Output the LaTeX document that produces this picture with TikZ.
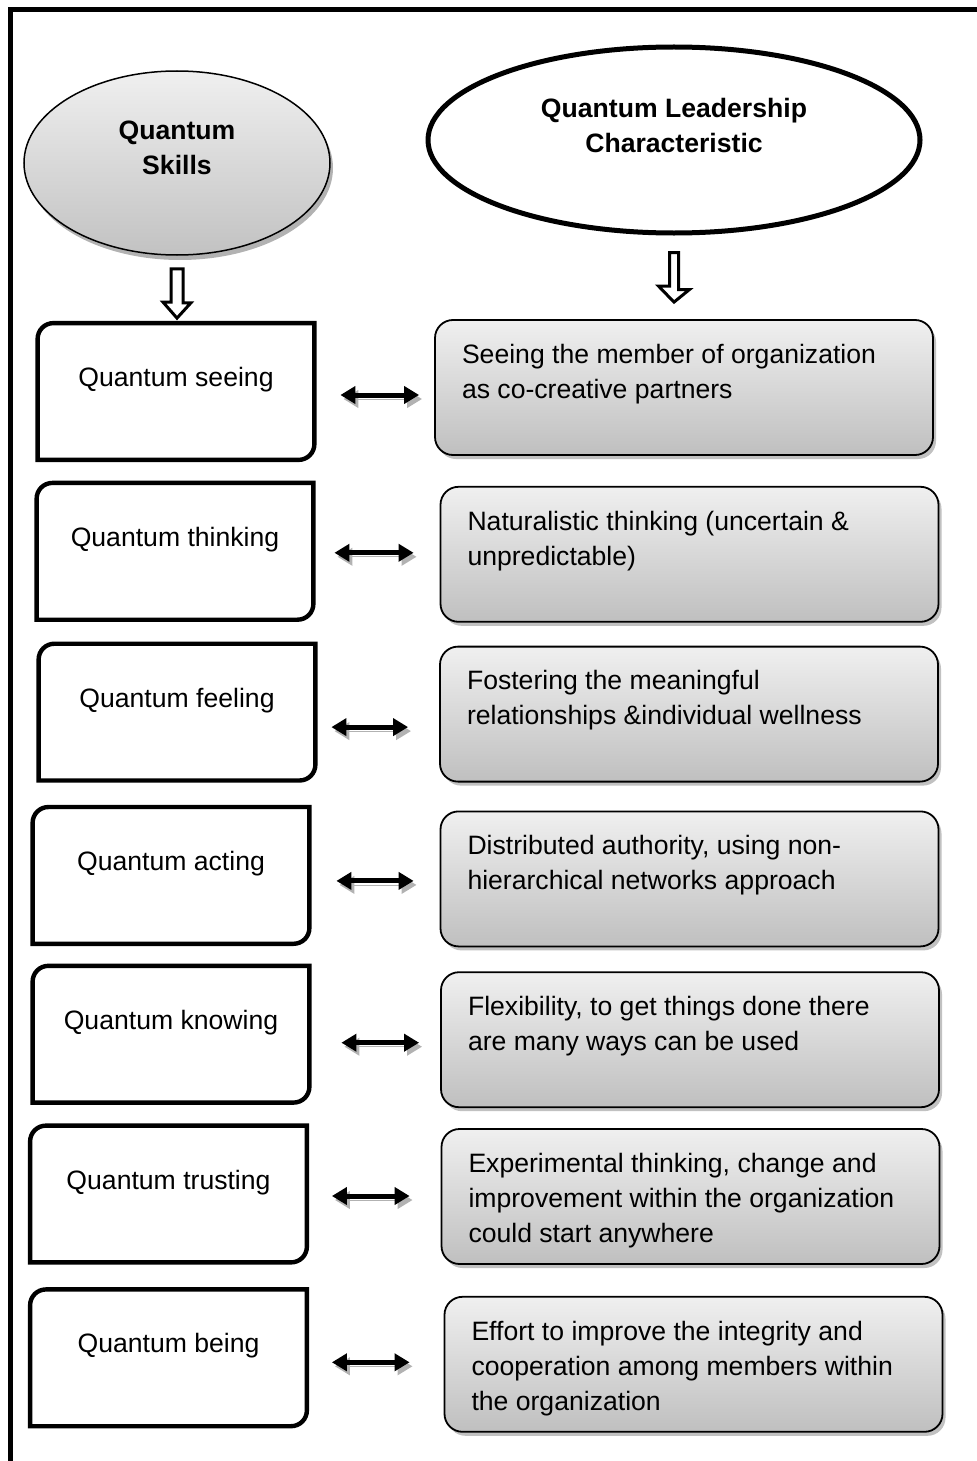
\documentclass[tikz,border=0pt]{standalone}
\usepackage{fontspec}
\setmainfont{Liberation Sans}
\usetikzlibrary{positioning,arrows.meta,calc,shapes.geometric,shadows}
\newcommand{\chartext}[1]{\parbox[c][43.5pt][t]{222pt}{#1}}

\begin{document}
\begin{tikzpicture}[x=0.5pt,y=-0.5pt,
  head/.style={ellipse,inner sep=0pt,text depth=15pt,align=center,font=\fontsize{13.3pt}{17.5pt}\selectfont\bfseries},
  skill/.style={rectangle,inner sep=0pt,minimum width=138pt,minimum height=68pt,text depth=14.5pt,font=\fontsize{13.3pt}{17.5pt}\selectfont},
  skillframe/.style={line width=2.2pt,line join=miter},
  char/.style={draw,line width=0.9pt,rounded corners=9pt,top color=gray!12,bottom color=gray!50,drop shadow={shadow xshift=1.5pt,shadow yshift=-2pt,fill=gray!70,opacity=0.7},minimum width=249pt,minimum height=67.5pt,inner xsep=13.5pt,inner ysep=0pt,font=\fontsize{13.3pt}{17.5pt}\selectfont},
  link/.style={{Triangle[length=7.5pt,width=8.5pt]}-{Triangle[length=7.5pt,width=8.5pt]},line width=2.5pt,preaction={draw=gray!60,transform canvas={shift={(1.5pt,-2pt)}}}},
  hollow/.style={draw,line width=1.5pt,fill=white,line join=miter}]
\useasboundingbox (0,0) rectangle (976,1461);
\draw[line width=2.5pt] (10.5,1470) -- (10.5,10) -- (990,10);
% heads
\node[head,draw,line width=0.75pt,top color=gray!12,bottom color=gray!48,drop shadow={shadow xshift=1.5pt,shadow yshift=-2.5pt,fill=gray!75,opacity=0.8},minimum width=153pt,minimum height=92pt] (qs) at (177,163) {Quantum\\Skills};
\node[head,draw,line width=2.5pt,fill=white,minimum width=246pt,minimum height=93pt] (qc) at (674,140) {Quantum Leadership\\Characteristic};
% skill column
\node[skill] (s1) at (176,391.5) {Quantum seeing};
\node[skill,below=11.5pt of s1,xshift=-0.5pt] (s2) {Quantum thinking};
\node[skill,below=12pt of s2,xshift=1pt] (s3) {Quantum feeling};
\node[skill,below=13.25pt of s3,xshift=-3pt] (s4) {Quantum acting};
\node[skill,below=11pt of s4] (s5) {Quantum knowing};
\node[skill,below=11.5pt of s5,xshift=-1.25pt] (s6) {Quantum trusting};
\node[skill,below=13.5pt of s6] (s7) {Quantum being};
% frames: round top left and bottom right only
\foreach \n in {1,...,7}
  \draw[skillframe] (s\n.north) -- (s\n.north east) -- ($(s\n.south east)+(0,-16)$) .. controls ($(s\n.south east)+(0,-7)$) and ($(s\n.south east)+(-7,0)$) .. ($(s\n.south east)+(-16,0)$) -- (s\n.south west) -- ($(s\n.north west)+(0,16)$) .. controls ($(s\n.north west)+(0,7)$) and ($(s\n.north west)+(7,0)$) .. ($(s\n.north west)+(16,0)$) -- cycle;
% characteristic column
\node[char] (c1) at (684,387.5) {\chartext{Seeing the member of organization\\as co-creative partners}};
\node[char,below=15pt of c1,xshift=2.75pt] (c2) {\chartext{Naturalistic thinking (uncertain \&\\unpredictable)}};
\node[char,below=11.5pt of c2,xshift=-0.25pt] (c3) {\chartext{Fostering the meaningful\\relationships \&individual wellness}};
\node[char,below=14pt of c3,xshift=0.25pt] (c4) {\chartext{Distributed authority, using non-\\hierarchical networks approach}};
\node[char,below=12pt of c4,xshift=0.25pt] (c5) {\chartext{Flexibility, to get things done there\\are many ways can be used}};
\node[char,below=10pt of c5,xshift=0.25pt] (c6) {\chartext{Experimental thinking, change and\\improvement within the organization\\could start anywhere}};
\node[char,below=15.5pt of c6,xshift=1.5pt] (c7) {\chartext{Effort to improve the integrity and\\cooperation among members within\\the organization}};
% down arrows
\draw[hollow] ($(qs.south)+(-6,13)$) -- ++(12,0) -- ++(0,34) -- ++(8,0) -- ($(qs.south |- s1.north)+(0,-5)$) -- ++(-14,-16) -- ++(8,0) -- cycle;
\draw[hollow] ($(qc.south)+(-4.5,17)$) -- ++(9,0) -- ++(0,37) -- ++(11,0) -- ($(qc.south |- c1.north)+(0,-17)$) -- ++(-15.5,-16) -- ++(11,0) -- cycle;
% links
\foreach \n/\dy/\a/\b in {1/1.75pt/13pt/7.5pt, 2/0.75pt/10.5pt/13pt, 3/7.5pt/8pt/15.5pt, 4/2.75pt/13.5pt/13pt, 5/4.25pt/16pt/10.5pt, 6/1pt/12.5pt/15.5pt, 7/2.25pt/12.5pt/17pt}
  \draw[link,shorten <=\a,shorten >=\b] ([yshift=-\dy]s\n.east) -- ([yshift=-\dy]s\n.east -| c\n.west);
\end{tikzpicture}
\end{document}
